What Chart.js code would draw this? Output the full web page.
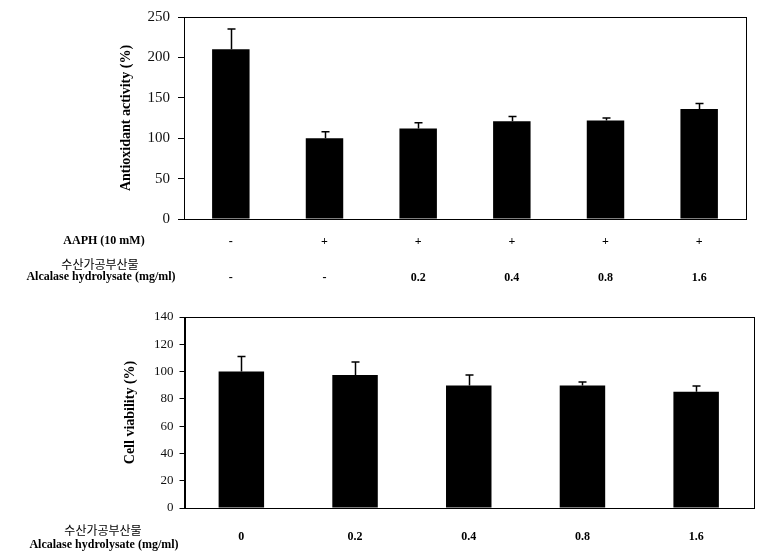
<!DOCTYPE html>
<html>
<head>
<meta charset="utf-8">
<script src="https://cdn.jsdelivr.net/npm/chart.js@4/dist/chart.umd.min.js"></script>
<style>
html,body{margin:0;padding:0;background:#fff;}
#wrap{position:relative;width:769px;height:559px;overflow:hidden;}
.box{position:absolute;left:0;}
</style>
</head>
<body>
<div id="wrap">
  <div class="box" style="top:0;"><canvas id="c1" width="769" height="295"></canvas></div>
  <div class="box" style="top:295px;"><canvas id="c2" width="769" height="264"></canvas></div>
</div>
<script>
// ---------- data ----------
const aaphRow = ['-', '+', '+', '+', '+', '+'];
const topDoseRow = ['-', '-', '0.2', '0.4', '0.8', '1.6'];
const antioxidantValues = [210, 100, 112, 121, 122, 136];
const antioxidantErrors = [25, 8, 7, 6, 3, 7];
const antioxidantTicks = [0, 50, 100, 150, 200, 250];

const viabilityDoses = ['0', '0.2', '0.4', '0.8', '1.6'];
const viabilityValues = [100, 97.5, 89.7, 89.7, 85.3];
const viabilityErrors = [11, 9.5, 7.8, 2.7, 4.1];
const viabilityTicks = [0, 20, 40, 60, 80, 100, 120, 140];

const topAxisTitle = 'Antioxidant activity (%)';
const bottomAxisTitle = 'Cell viability (%)';
const rowLabelAAPH = 'AAPH (10 mM)';
const rowLabelKorean = '수산가공부산물';
const rowLabelDose = 'Alcalase hydrolysate (mg/ml)';

// ---------- setup ----------
const SERIF = "'Liberation Serif', 'Times New Roman', serif";
Chart.defaults.font.family = SERIF;
Chart.defaults.color = '#000';
Chart.defaults.animation = false;

function frameAndErrors(errors) {
  return {
    id: 'frameAndErrors',
    afterDatasetsDraw(chart) {
      const ctx = chart.ctx;
      const a = chart.chartArea;
      const ys = chart.scales.y;
      const meta = chart.getDatasetMeta(0);
      const vals = chart.data.datasets[0].data;
      ctx.save();
      ctx.strokeStyle = '#000';
      ctx.lineWidth = 1.5;
      meta.data.forEach((el, i) => {
        const yTop = ys.getPixelForValue(vals[i]);
        const yErr = ys.getPixelForValue(vals[i] + errors[i]);
        const x = Math.round(el.x) + 0.5;
        ctx.beginPath();
        ctx.moveTo(x, yTop);
        ctx.lineTo(x, yErr);
        ctx.moveTo(x - 4, yErr);
        ctx.lineTo(x + 4, yErr);
        ctx.stroke();
      });
      ctx.lineWidth = 1;
      ctx.strokeRect(Math.round(a.left) + 0.5, Math.round(a.top) + 0.5,
                     Math.round(a.right - a.left), Math.round(a.bottom - a.top));
      ctx.restore();
    }
  };
}

function rowLabels(items) {
  return {
    id: 'rowLabels',
    afterDraw(chart) {
      const ctx = chart.ctx;
      ctx.save();
      ctx.fillStyle = '#000';
      ctx.textAlign = 'center';
      ctx.textBaseline = 'middle';
      items.forEach(it => {
        ctx.font = it.font;
        ctx.fillText(it.text, it.x, it.y);
      });
      ctx.restore();
    }
  };
}

function makeChart(id, cfg) {
  return new Chart(document.getElementById(id), {
    type: 'bar',
    data: {
      labels: cfg.labels,
      datasets: [{
        data: cfg.values,
        backgroundColor: '#000',
        borderWidth: 0,
        barPercentage: 0.4,
        categoryPercentage: 1.0
      }]
    },
    options: {
      responsive: false,
      animation: false,
      events: [],
      layout: { padding: cfg.padding },
      plugins: { legend: { display: false }, tooltip: { enabled: false } },
      scales: {
        x: {
          grid: { display: false },
          border: { display: true, color: '#000', width: 1 },
          ticks: {
            autoSkip: false, maxRotation: 0, padding: cfg.xPad,
            font: { family: SERIF, size: 12, weight: 'bold', lineHeight: cfg.xLineHeight },
            color: '#000'
          },
          afterFit(s) { s.height = cfg.xHeight; }
        },
        y: {
          min: 0, max: cfg.yMax,
          afterBuildTicks(s) { s.ticks = cfg.yTicks.map(v => ({ value: v })); },
          grid: { display: true, drawOnChartArea: false, drawTicks: true, tickLength: cfg.tickLen, color: '#000', lineWidth: 1 },
          border: { display: true, color: '#000', width: 1 },
          ticks: { padding: cfg.yPad, font: { family: SERIF, size: cfg.yFont }, color: '#111' },
          title: {
            display: true, text: cfg.title, color: '#000',
            font: { family: SERIF, size: 14, weight: 'bold', lineHeight: 1.2 },
            padding: { top: cfg.titleOffset, bottom: 0 }
          },
          afterFit(s) { s.width = cfg.yWidth; }
        }
      }
    },
    plugins: [frameAndErrors(cfg.errors), rowLabels(cfg.rows)]
  });
}

makeChart('c1', {
  labels: topDoseRow.map((d, i) => [aaphRow[i], d]),
  values: antioxidantValues,
  errors: antioxidantErrors,
  yMax: 250, yTicks: antioxidantTicks,
  padding: { top: 16, right: 23, left: 0, bottom: 0 },
  xHeight: 76, xPad: -2.5, xLineHeight: '35.5px',
  yWidth: 184, tickLen: 6, yPad: 8, yFont: 15,
  title: topAxisTitle, titleOffset: 117.6,
  rows: [
    { text: rowLabelAAPH, x: 104, y: 240.5, font: "bold 12px " + SERIF },
    { text: rowLabelKorean, x: 100, y: 264, font: "12px 'Noto Sans CJK KR', sans-serif" },
    { text: rowLabelDose, x: 101, y: 277, font: "bold 12px " + SERIF }
  ]
});

makeChart('c2', {
  labels: viabilityDoses,
  values: viabilityValues,
  errors: viabilityErrors,
  yMax: 140, yTicks: viabilityTicks,
  padding: { top: 22, right: 16, left: 0, bottom: 0 },
  xHeight: 51, xPad: 13.8, xLineHeight: 1.2,
  yWidth: 184.5, tickLen: 5, yPad: 6, yFont: 13,
  title: bottomAxisTitle, titleOffset: 121.6,
  rows: [
    { text: rowLabelKorean, x: 103, y: 235.5, font: "12px 'Noto Sans CJK KR', sans-serif" },
    { text: rowLabelDose, x: 104, y: 249.5, font: "bold 12px " + SERIF }
  ]
});
</script>
</body>
</html>
